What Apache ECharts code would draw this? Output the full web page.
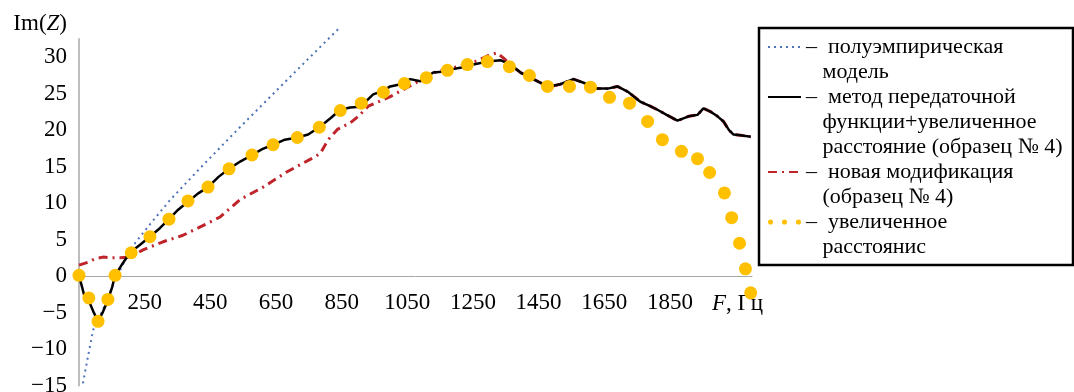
<!DOCTYPE html>
<html><head><meta charset="utf-8">
<script src="https://cdn.jsdelivr.net/npm/echarts@6/dist/echarts.min.js"></script>
<style>html,body{margin:0;padding:0;background:#fff}#c{width:1074px;height:392px}</style>
</head><body><div id="c"></div>
<script>
// ---- data (F in Hz, Im(Z)) ----
const seriesNames = [
  'полуэмпирическая модель',
  'метод передаточной функции+увеличенное расстояние (образец № 4)',
  'новая модификация (образец № 4)',
  'увеличенное расстоянис'
];
const legendLines = [
  ['полуэмпирическая', 'модель'],
  ['метод передаточной', 'функции+увеличенное', 'расстояние (образец № 4)'],
  ['новая модификация', '(образец № 4)'],
  ['увеличенное', 'расстоянис']
];
const modelF = [62, 77, 93, 120, 151, 205, 266, 327, 419, 540, 693, 845];
const modelV = [-14.7, -11.1, -7.4, -4.9, -1.5, 3.6, 7.1, 10.4, 14.8, 20.4, 27.3, 34.1];

const transferF = [50, 68, 80, 93, 108, 123, 138, 151, 160, 184, 205, 236, 266, 297, 324, 352, 382, 412, 443, 475, 507, 541, 577, 608, 641, 677, 715, 748, 782, 815, 846, 876, 907, 946, 977, 998, 1030, 1059, 1090, 1129, 1155, 1181, 1215, 1251, 1294, 1334, 1364, 1395, 1425, 1456, 1477, 1516, 1556, 1587, 1629, 1660, 1690, 1721, 1760, 1790, 1812, 1840, 1873, 1907, 1934, 1952, 1975, 1995, 2013, 2030, 2044, 2065, 2096];
const transferV = [0.1, -3.0, -3.4, -4.8, -6.2, -4.9, -3.3, -1.5, 0.1, 1.8, 3.2, 4.3, 5.4, 6.6, 7.8, 9.1, 10.2, 11.3, 12.2, 13.6, 14.7, 15.7, 16.6, 17.4, 18.0, 18.7, 19.0, 19.4, 20.4, 21.6, 22.8, 23.1, 23.2, 24.9, 25.4, 26.0, 26.3, 27.0, 26.7, 27.9, 28.0, 28.3, 28.6, 29.0, 29.4, 29.6, 29.0, 27.9, 27.2, 26.5, 25.9, 26.3, 27.0, 26.5, 25.7, 25.7, 26.0, 25.3, 23.9, 23.3, 22.8, 22.1, 21.3, 21.9, 22.1, 23.0, 22.5, 21.9, 21.2, 20.0, 19.4, 19.3, 19.1];

const newModF = [50, 77, 100, 123, 150, 175, 205, 245, 306, 367, 413, 480, 541, 611, 684, 754, 785, 809, 837, 876, 901, 931, 967, 998, 1068, 1137, 1202, 1263, 1300, 1324, 1345, 1364, 1395, 1425, 1456, 1477, 1516, 1556, 1587, 1629, 1660, 1690, 1721, 1760, 1790, 1812, 1840, 1873, 1907, 1934, 1952, 1975, 1995, 2013, 2030, 2044, 2065, 2096];
const newModV = [1.5, 1.9, 2.4, 2.6, 2.5, 2.5, 2.6, 3.6, 4.7, 5.6, 6.6, 8.1, 10.5, 12.2, 14.3, 16.0, 16.8, 18.7, 20.1, 21.0, 21.9, 23.3, 24.0, 24.6, 26.3, 28.0, 28.7, 29.5, 30.3, 30.6, 29.8, 29.0, 27.9, 27.2, 26.5, 25.9, 26.3, 27.0, 26.5, 25.7, 25.7, 26.0, 25.3, 23.9, 23.3, 22.8, 22.1, 21.3, 21.9, 22.1, 23.0, 22.5, 21.9, 21.2, 20.0, 19.4, 19.3, 19.1];

const distF = [50, 80, 108, 138, 160, 209, 266, 324, 382, 443, 507, 577, 641, 715, 782, 846, 910, 977, 1041, 1108, 1172, 1233, 1294, 1361, 1422, 1477, 1544, 1608, 1666, 1727, 1782, 1827, 1885, 1934, 1971, 2016, 2038, 2062, 2080, 2096];
const distV = [0.1, -3.0, -6.2, -3.2, 0.1, 3.2, 5.4, 7.8, 10.3, 12.2, 14.7, 16.6, 18.0, 19.0, 20.4, 22.7, 23.7, 25.2, 26.4, 27.2, 28.2, 29.0, 29.4, 28.7, 27.5, 26.0, 26.0, 25.9, 24.5, 23.7, 21.2, 18.7, 17.1, 16.1, 14.2, 11.4, 8.0, 4.5, 1.0, -2.3];

const xLabelsShown = [250, 450, 650, 850, 1050, 1250, 1450, 1650, 1850];
const yLabelsShown = [-15, -10, -5, 0, 5, 10, 15, 20, 25, 30];

// ---- helpers ----
const pairs = (a, b) => a.map((v, i) => [v, b[i]]);
const FONT = 'Liberation Serif';
const FS = 23;
const Y_MIN = -15, Y_MAX = 32.5, GRID_TOP = 39, GRID_BOTTOM = 6.5, H = 392;
// pixel distance between the zero line and the grid bottom -> x axis drawn at y = 0
const plotH = H - GRID_TOP - GRID_BOTTOM;
const zeroOffset = -plotH * (0 - Y_MIN) / (Y_MAX - Y_MIN);
// pad legend texts so the icon sits on the first line (lead/trail blank lines)
const lead = [1, 2, 2, 1], trail = [0, 0, 1, 0];
const legendText = {};
seriesNames.forEach((n, i) => {
  const lines = legendLines[i].map((l, j) => j === 0 ? '–  ' + l : '   ' + l);
  legendText[n] = Array(lead[i]).fill('').concat(lines, Array(trail[i]).fill('')).join('\n');
});

const chart = echarts.init(document.getElementById('c'), null, {renderer: 'canvas'});
chart.setOption({
  animation: false,
  backgroundColor: '#fff',
  grid: {left: 79, right: 322, top: GRID_TOP, bottom: GRID_BOTTOM, containLabel: false, outerBoundsMode: 'none'},
  xAxis: {
    type: 'value', min: 50, max: 2100, position: 'bottom', offset: zeroOffset,
    axisLine: {show: true, onZero: false, lineStyle: {color: '#a8a8a8', width: 1}},
    axisTick: {show: false}, splitLine: {show: false},
    axisLabel: {show: true, margin: 15, fontFamily: FONT, fontSize: FS, color: '#000',
      customValues: xLabelsShown, formatter: v => String(v)},
    name: '{i|F}{n|, Гц}', nameLocation: 'end', nameGap: -40,
    nameTextStyle: {align: 'left', verticalAlign: 'top', padding: [16, 0, 0, 0],
      rich: {i: {fontFamily: FONT, fontSize: FS, fontStyle: 'italic', color: '#000'},
             n: {fontFamily: FONT, fontSize: FS, color: '#000'}}}
  },
  yAxis: {
    type: 'value', min: Y_MIN, max: Y_MAX, interval: 5,
    axisLine: {show: true, onZero: false, lineStyle: {color: '#bdbdbd', width: 2}},
    axisTick: {show: false}, splitLine: {show: false},
    axisLabel: {margin: 12, fontFamily: FONT, fontSize: FS, color: '#000',
      customValues: yLabelsShown,
      formatter: v => (v < 0 ? '\u2212' + Math.abs(v) : String(v))},
    name: '{n|Im(}{i|Z}{n|)}', nameLocation: 'end', nameGap: 4,
    nameTextStyle: {align: 'right', verticalAlign: 'bottom', padding: [0, 12, 0, 0],
      rich: {i: {fontFamily: FONT, fontSize: FS, fontStyle: 'italic', color: '#000'},
             n: {fontFamily: FONT, fontSize: FS, color: '#000'}}}
  },
  legend: {
    orient: 'vertical', left: 767, top: 9.5, padding: 0, itemGap: -50,
    itemWidth: 33, itemHeight: 14, selectedMode: false,
    itemStyle: {opacity: 0},
    textStyle: {fontFamily: FONT, fontSize: 22, lineHeight: 25, color: '#000'},
    data: [
      {name: seriesNames[0]}, {name: seriesNames[1]}, {name: seriesNames[2]},
      {name: seriesNames[3], itemStyle: {opacity: 1},
       icon: 'path://M0,2a2,2 0 1,0 4,0a2,2 0 1,0 -4,0zM11,2a2,2 0 1,0 4,0a2,2 0 1,0 -4,0zM22,2a2,2 0 1,0 4,0a2,2 0 1,0 -4,0z'}
    ],
    formatter: name => legendText[name]
  },
  graphic: [{type: 'rect', silent: true, shape: {x: 759, y: 28, width: 314, height: 237},
    style: {fill: 'none', stroke: '#000', lineWidth: 2.5}}],
  series: [
    {name: seriesNames[0], type: 'line', data: pairs(modelF, modelV), symbol: 'none', clip: false, z: 1,
      lineStyle: {color: '#4f72b8', width: 2, type: [2, 4]}, itemStyle: {color: '#4f72b8'}},
    {name: seriesNames[2], type: 'line', data: pairs(newModF, newModV), symbol: 'none', z: 2,
      lineStyle: {color: '#c0242b', width: 3, type: [9, 5, 2, 5]}, itemStyle: {color: '#c0242b'}},
    {name: seriesNames[1], type: 'line', data: pairs(transferF, transferV), symbol: 'none', z: 3,
      lineStyle: {color: '#000', width: 2.5}, itemStyle: {color: '#000'}},
    {name: seriesNames[3], type: 'scatter', data: pairs(distF, distV), symbolSize: 13, z: 4,
      itemStyle: {color: '#ffc000', opacity: 1}}
  ]
});
</script></body></html>
